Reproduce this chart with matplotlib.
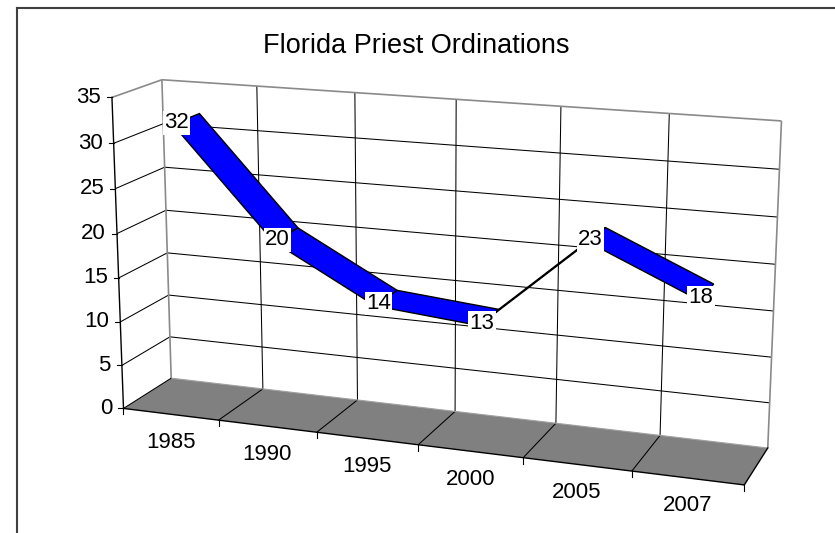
import numpy as np
import matplotlib.pyplot as plt
from matplotlib.patches import Polygon

plt.rcParams['font.family'] = ['Liberation Sans', 'DejaVu Sans']

title = "Florida Priest Ordinations"
years = ["1985", "1990", "1995", "2000", "2005", "2007"]
ordinations = [32, 20, 14, 13, 23, 18]
value_ticks = [0, 5, 10, 15, 20, 25, 30, 35]

# layout of the 3d box: (category, value, depth) -> pixel
calib = [
    ((0, 0, 0), (124, 408)), ((1, 0, 0), (218, 420)), ((2, 0, 0), (317, 432)),
    ((3, 0, 0), (418, 445)), ((4, 0, 0), (523, 458)), ((5, 0, 0), (632, 472)),
    ((6, 0, 0), (744, 485)),
    ((0, 0, 1), (171, 378)), ((1, 0, 1), (263, 389)), ((2, 0, 1), (358, 400)),
    ((3, 0, 1), (456, 411)), ((4, 0, 1), (555, 423)), ((5, 0, 1), (660, 436)),
    ((6, 0, 1), (768, 447)),
    ((0, 35, 0), (112, 97)), ((0, 30, 0), (114, 143)), ((0, 20, 0), (117, 234)),
    ((0, 10, 0), (120, 322)), ((0, 5, 0), (122, 365)),
    ((0, 35, 1), (162, 81)), ((0, 30, 1), (163, 122)), ((0, 20, 1), (166, 211)),
    ((0, 10, 1), (168, 296)),
    ((6, 35, 1), (781, 122)), ((6, 30, 1), (780, 168)),
]

# fit a pinhole camera (DLT) to the box corners
rows, rhs = [], []
for (X, Y, Z), (u, v) in calib:
    rows.append([X, Y, Z, 1, 0, 0, 0, 0, -u * X, -u * Y, -u * Z])
    rhs.append(u)
    rows.append([0, 0, 0, 0, X, Y, Z, 1, -v * X, -v * Y, -v * Z])
    rhs.append(v)
p = np.linalg.lstsq(np.array(rows, float), np.array(rhs, float), rcond=None)[0]
P = np.append(p, 1.0).reshape(3, 4)


def proj(x, y, z):
    pt = P @ np.array([x, y, z, 1.0])
    return pt[0] / pt[2], pt[1] / pt[2]


def line3d(a, b, **kw):
    pa, pb = proj(*a), proj(*b)
    ax.plot([pa[0], pb[0]], [pa[1], pb[1]], **kw)


ncat = len(years)
vmax = value_ticks[-1]
z0, z1 = 0.22, 0.78

fig = plt.figure(figsize=(8.35, 5.33), dpi=100)
ax = fig.add_axes([0, 0, 1, 1])
ax.set_xlim(0, 835)
ax.set_ylim(533, 0)
ax.axis('off')

grid = dict(color='black', lw=0.75, solid_capstyle='butt')
edge = dict(color='#8a8a8a', lw=1.2, solid_capstyle='butt')

# floor
floor = [proj(0, 0, 0), proj(ncat, 0, 0), proj(ncat, 0, 1), proj(0, 0, 1)]
ax.add_patch(Polygon(floor, closed=True, fc='#808080', ec='none', zorder=1))

# walls: gridlines
for t in value_ticks[1:-1]:
    line3d((0, t, 1), (ncat, t, 1), **grid)
    line3d((0, t, 0), (0, t, 1), **grid)
for k in range(1, ncat):
    line3d((k, 0, 1), (k, vmax, 1), **grid)
    line3d((k, 0, 0), (k, 0, 1), **grid)
# wall edges
line3d((0, vmax, 0), (0, vmax, 1), **edge)
line3d((0, vmax, 1), (ncat, vmax, 1), **edge)
line3d((0, 0, 1), (0, vmax, 1), **edge)
line3d((ncat, 0, 1), (ncat, vmax, 1), **edge)
line3d((0, 0, 1), (ncat, 0, 1), color='#a0a0a0', lw=0.8)
# floor edges and axes
line3d((0, 0, 0), (0, 0, 1), **grid)
line3d((ncat, 0, 0), (ncat, 0, 1), color='black', lw=1.0)
line3d((0, 0, 0), (ncat, 0, 0), color='black', lw=1.0)
line3d((0, 0, 0), (0, vmax, 0), color='black', lw=1.0)

# value axis ticks and labels
for t in value_ticks:
    u, v = proj(0, t, 0)
    ax.plot([u - 5, u], [v, v], color='black', lw=0.8)
    ax.text(u - 11, v, str(t), ha='right', va='center', fontsize=16)

# category ticks and labels
for k in range(ncat + 1):
    u, v = proj(k, 0, 0)
    ax.plot([u, u], [v, v + 6], color='black', lw=0.8)
for i, yr in enumerate(years):
    u, v = proj(i + 0.5, 0, 0)
    ax.text(u, v + 28, yr, ha='center', va='center', fontsize=16)

# ribbon
for i in range(ncat - 1):
    a, b = ordinations[i], ordinations[i + 1]
    quad = [proj(i + 0.5, a, z0), proj(i + 1.5, b, z0),
            proj(i + 1.5, b, z1), proj(i + 0.5, a, z1)]
    ax.add_patch(Polygon(quad, closed=True, fc='#0000ff', ec='black',
                         lw=1.0, joinstyle='miter', zorder=3))

# data labels
for i, val in enumerate(ordinations):
    u, v = proj(i + 0.5, val, 0.3)
    ax.text(u, v, str(val), ha='center', va='center', fontsize=16, zorder=5,
            bbox=dict(boxstyle='square,pad=0.06', fc='white', ec='none'))

ax.text(416, 46, title, ha='center', va='center', fontsize=19.5)

# chart frame
ax.plot([16.5, 16.5], [533, 7.5], color='#404040', lw=1.5, solid_capstyle='projecting')
ax.plot([16.5, 835], [7.5, 7.5], color='#404040', lw=1.5, solid_capstyle='projecting')

fig.savefig('out.png', dpi=100)
